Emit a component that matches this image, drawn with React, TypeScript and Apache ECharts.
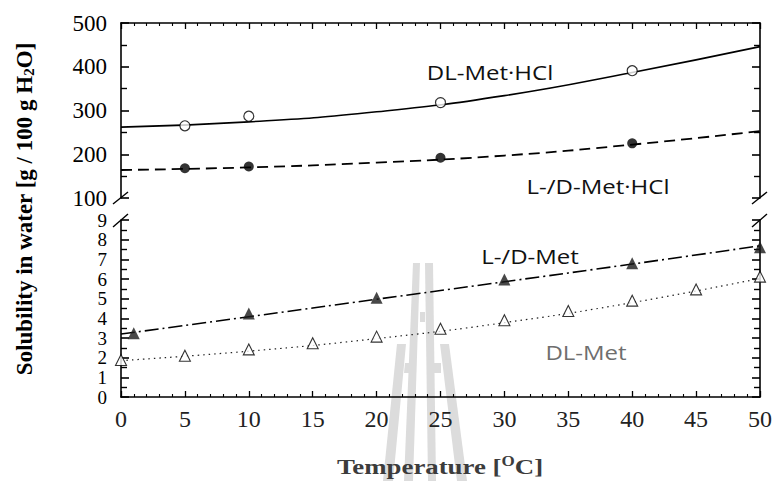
import React, { useEffect, useRef } from "react";
import * as echarts from "echarts";

// ---- data ----
const xTicks = [0, 5, 10, 15, 20, 25, 30, 35, 40, 45, 50];
const fitT = [0, 10, 20, 30, 40, 50];

const dlHclT = [5, 10, 25, 40];
const dlHclV = [265, 287, 318, 391];
const dlHclFit = [262, 274, 297, 334, 387, 446];

const ldHclT = [5, 10, 25, 40];
const ldHclV = [168, 172, 192, 225];
const ldHclFit = [164, 170, 181, 197, 222, 253];

const ldMetT = [1, 10, 20, 30, 40, 50];
const ldMetV = [3.24, 4.25, 5.05, 5.98, 6.8, 7.61];
const ldMetFit = [3.2, 4.08, 4.97, 5.86, 6.76, 7.69];

const dlMetT = [0, 5, 10, 15, 20, 25, 30, 35, 40, 45, 50];
const dlMetV = [1.88, 2.1, 2.42, 2.73, 3.07, 3.47, 3.9, 4.37, 4.9, 5.47, 6.12];
const dlMetFit = [1.85, 2.33, 2.97, 3.78, 4.8, 6.03];

const upperTicks = [100, 200, 300, 400, 500];
const lowerTicks = [0, 1, 2, 3, 4, 5, 6, 7, 8, 9];

const zip = (a: number[], b: number[]) => a.map((v, i) => [v, b[i]]);

const SERIF = '"Liberation Serif", "Times New Roman", serif';
const SANS = '"Open Sans", "Noto Sans", sans-serif';
const LW = 1.6;

export default function App() {
  const ref = useRef<HTMLDivElement>(null);
  useEffect(() => {
    if (!ref.current) return;
    const chart = echarts.init(ref.current, null, { renderer: "svg" });

    const axisLine = { show: true, onZero: false, lineStyle: { color: "#000", width: LW } };
    const xCommon = {
      type: "value",
      min: xTicks[0],
      max: xTicks[xTicks.length - 1],
      interval: 5,
      splitLine: { show: false },
      axisLine,
      axisTick: { show: true, inside: true, length: 6, lineStyle: { color: "#000", width: 1.3 } },
      minorTick: { show: true, splitNumber: 5, length: 3, lineStyle: { color: "#000", width: 1.1 } },
    };
    const yTickStyle = { show: true, inside: true, length: 8, lineStyle: { color: "#000", width: 1.6 } };
    const yMinor = { show: true, splitNumber: 2, length: 6, lineStyle: { color: "#000", width: 1.4 } };
    const upperY = {
      type: "value",
      gridIndex: 0,
      min: upperTicks[0],
      max: upperTicks[upperTicks.length - 1],
      interval: 100,
      splitLine: { show: false },
      axisLine,
      axisTick: yTickStyle,
      minorTick: yMinor,
    };
    const lowerY = {
      type: "value",
      gridIndex: 1,
      min: lowerTicks[0],
      max: lowerTicks[lowerTicks.length - 1],
      interval: 1,
      splitLine: { show: false },
      axisLine,
      axisTick: yTickStyle,
      minorTick: yMinor,
    };

    const wm = "#dcdcdc";
    const poly = (points: number[][]) => ({
      type: "polygon",
      z: -10,
      silent: true,
      shape: { points },
      style: { fill: wm },
    });
    const brk = (x1: number, y1: number, x2: number, y2: number) => ({
      type: "line",
      z: 50,
      silent: true,
      shape: { x1, y1, x2, y2 },
      style: { stroke: "#000", lineWidth: 1.4 },
    });
    const label = (text: string, x: number, y: number, color: string) => ({
      type: "text",
      z: 50,
      x,
      y,
      scaleX: 1.2,
      style: {
        text,
        fill: color,
        font: `20px ${SANS}`,
        textAlign: "center",
        textVerticalAlign: "middle",
      },
    });

    chart.setOption({
      animation: false,
      backgroundColor: "#fff",
      grid: [
        { left: 121, top: 23, width: 639, height: 175 },
        { left: 121, top: 220, width: 639, height: 177 },
      ],
      xAxis: [
        { ...xCommon, gridIndex: 0, position: "top", axisLabel: { show: false } },
        {
          ...xCommon,
          gridIndex: 1,
          position: "bottom",
          axisLabel: {
            show: true,
            margin: 10,
            color: "#222",
            fontFamily: SERIF,
            fontSize: 24,
            showMinLabel: true,
            showMaxLabel: true,
          },
        },
      ],
      yAxis: [
        {
          ...upperY,
          position: "left",
          axisLabel: {
            show: true,
            margin: 14,
            color: "#000",
            fontFamily: SERIF,
            fontSize: 23,
            showMinLabel: true,
            showMaxLabel: true,
          },
        },
        { ...upperY, position: "right", axisLabel: { show: false } },
        {
          ...lowerY,
          position: "left",
          axisLabel: {
            show: true,
            margin: 14,
            color: "#000",
            fontFamily: SERIF,
            fontSize: 19,
            lineHeight: 17,
            showMinLabel: true,
            showMaxLabel: true,
          },
        },
        { ...lowerY, position: "right", axisLabel: { show: false } },
      ],
      graphic: [
        // watermark
        poly([[413, 263], [420, 263], [413, 481], [404, 481]]),
        poly([[425, 263], [433, 263], [436, 481], [428, 481]]),
        poly([[420, 312], [425, 312], [425, 322], [420, 322]]),
        poly([[397, 344], [406, 344], [393, 481], [383, 481]]),
        poly([[440, 344], [449, 344], [467, 481], [457, 481]]),
        poly([[405, 363], [413, 363], [413, 373], [404, 373]]),
        poly([[433, 363], [441, 363], [441, 373], [433, 373]]),
        // axis breaks
        brk(113, 204, 128, 192),
        brk(113, 227, 128, 214),
        brk(752, 204, 767, 192),
        brk(752, 227, 767, 214),
        // series labels
        label("DL-Met·HCl", 490, 72, "#111"),
        label("L-/D-Met·HCl", 598, 186, "#111"),
        label("L-/D-Met", 530, 256, "#111"),
        label("DL-Met", 586, 352, "#6e6e6e"),
        // axis titles
        {
          type: "text",
          z: 50,
          x: 24,
          y: 209,
          rotation: Math.PI / 2,
          style: {
            text: "{a|Solubility in water [g / 100 g H}{s|2}{a|O]}",
            textAlign: "center",
            textVerticalAlign: "middle",
            fill: "#000",
            rich: {
              a: { font: `bold 23px ${SERIF}`, fill: "#000" },
              s: { font: `bold 15px ${SERIF}`, fill: "#000", padding: [9, 0, 0, 0] },
            },
          },
        },
        {
          type: "text",
          z: 50,
          x: 440,
          y: 466,
          scaleX: 1.22,
          style: {
            text: "{a|Temperature [}{s|O}{a|C]}",
            textAlign: "center",
            textVerticalAlign: "middle",
            fill: "#3c3c3c",
            rich: {
              a: { font: `bold 22px ${SERIF}`, fill: "#3c3c3c" },
              s: { font: `bold 14px ${SERIF}`, fill: "#3c3c3c", padding: [0, 0, 9, 0] },
            },
          },
        },
      ],
      series: [
        {
          name: "DL-Met·HCl fit",
          type: "line",
          xAxisIndex: 0,
          yAxisIndex: 0,
          data: zip(fitT, dlHclFit),
          smooth: true,
          symbol: "none",
          lineStyle: { color: "#000", width: 1.6, type: "solid" },
          z: 3,
        },
        {
          name: "DL-Met·HCl",
          type: "scatter",
          xAxisIndex: 0,
          yAxisIndex: 0,
          data: zip(dlHclT, dlHclV),
          symbol: "circle",
          symbolSize: 10,
          clip: false,
          itemStyle: { color: "#fff", borderColor: "#000", borderWidth: 1.2 },
          z: 4,
        },
        {
          name: "L-/D-Met·HCl fit",
          type: "line",
          xAxisIndex: 0,
          yAxisIndex: 0,
          data: zip(fitT, ldHclFit),
          smooth: true,
          symbol: "none",
          lineStyle: { color: "#000", width: 1.8, type: [11, 6] },
          z: 3,
        },
        {
          name: "L-/D-Met·HCl",
          type: "scatter",
          xAxisIndex: 0,
          yAxisIndex: 0,
          data: zip(ldHclT, ldHclV),
          symbol: "circle",
          symbolSize: 10,
          clip: false,
          itemStyle: { color: "#000" },
          z: 4,
        },
        {
          name: "L-/D-Met fit",
          type: "line",
          xAxisIndex: 1,
          yAxisIndex: 2,
          data: zip(fitT, ldMetFit),
          smooth: true,
          symbol: "none",
          lineStyle: { color: "#000", width: 1.6, type: [14, 4, 2, 4] },
          z: 3,
        },
        {
          name: "L-/D-Met",
          type: "scatter",
          xAxisIndex: 1,
          yAxisIndex: 2,
          data: zip(ldMetT, ldMetV),
          symbol: "triangle",
          symbolSize: 12,
          clip: false,
          itemStyle: { color: "#1a1a1a" },
          z: 4,
        },
        {
          name: "DL-Met fit",
          type: "line",
          xAxisIndex: 1,
          yAxisIndex: 2,
          data: zip(fitT, dlMetFit),
          smooth: true,
          symbol: "none",
          lineStyle: { color: "#222", width: 1.2, type: [1.5, 4] },
          z: 3,
        },
        {
          name: "DL-Met",
          type: "scatter",
          xAxisIndex: 1,
          yAxisIndex: 2,
          data: zip(dlMetT, dlMetV),
          symbol: "triangle",
          symbolSize: 11,
          clip: false,
          itemStyle: { color: "#fff", borderColor: "#000", borderWidth: 1.1 },
          z: 4,
        },
      ],
    });
    return () => chart.dispose();
  }, []);

  return (
    <div
      ref={ref}
      style={{ position: "fixed", left: 0, top: 0, width: 776, height: 481, background: "#fff" }}
    />
  );
}
